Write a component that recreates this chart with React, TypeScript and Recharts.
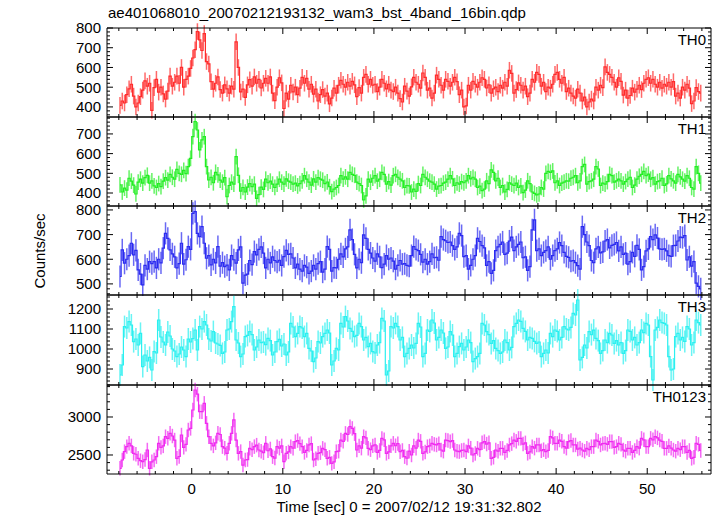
import React from "react";
import { ComposedChart, Line, ErrorBar, XAxis, YAxis } from "recharts";

// light curves, 0.25 s bins starting at t = -8 s
const T_START = -8;
const BIN = 0.25;

const th0 = [
  408, 430, 420, 462, 492, 515, 455, 400, 420, 452, 485, 532, 505, 520, 383, 498,
  540, 475, 500, 466, 440, 480, 556, 505, 525, 556, 520, 600, 500, 540, 556, 595,
  648, 690, 782, 740, 686, 772, 630, 618, 528, 490, 520, 552, 488, 470, 512, 492,
  470, 505, 490, 730, 600, 476, 490, 448, 512, 538, 505, 552, 520, 540, 496, 520,
  545, 520, 552, 470, 432, 500, 548, 522, 392, 470, 440, 510, 476, 500, 462, 495,
  550, 520, 545, 490, 515, 465, 490, 430, 462, 488, 455, 470, 416, 445, 495, 470,
  510, 535, 515, 500, 525, 505, 530, 512, 452, 498, 470, 550, 565, 515, 540, 510,
  515, 478, 500, 540, 520, 492, 515, 485, 478, 500, 470, 442, 425, 505, 480, 455,
  502, 550, 525, 515, 495, 572, 550, 485, 495, 445, 470, 561, 540, 510, 485, 540,
  530, 505, 525, 550, 528, 462, 485, 400, 405, 510, 485, 530, 515, 500, 525, 548,
  540, 496, 512, 470, 492, 500, 478, 510, 495, 525, 505, 586, 570, 470, 488, 522,
  510, 485, 505, 452, 470, 540, 525, 575, 565, 505, 525, 478, 500, 495, 515, 565,
  575, 540, 520, 550, 478, 495, 470, 455, 445, 490, 470, 430, 450, 400, 425, 440,
  430, 500, 485, 510, 498, 603, 575, 565, 550, 525, 500, 548, 530, 460, 485, 445,
  458, 495, 475, 490, 510, 488, 520, 540, 548, 520, 540, 515, 500, 525, 495, 515,
  505, 525, 500, 528, 455, 470, 445, 500, 485, 515, 495, 417, 430, 498, 478, 470,
];

const th1 = [
  441, 405, 425, 415, 475, 460, 440, 395, 455, 470, 450, 478, 490, 450, 462, 436,
  428, 448, 432, 460, 478, 465, 495, 480, 470, 520, 500, 495, 515, 498, 534, 576,
  686, 763, 720, 619, 670, 686, 534, 466, 480, 452, 505, 492, 465, 455, 478, 381,
  438, 455, 445, 585, 490, 410, 428, 405, 430, 448, 432, 445, 373, 392, 430, 418,
  470, 452, 460, 445, 428, 445, 470, 455, 445, 472, 460, 455, 445, 450, 436, 448,
  462, 488, 470, 455, 440, 472, 455, 478, 470, 465, 448, 456, 432, 407, 420, 428,
  438, 488, 470, 482, 470, 505, 495, 490, 455, 448, 438, 365, 385, 470, 455, 475,
  488, 460, 470, 505, 495, 445, 458, 440, 488, 495, 480, 470, 462, 428, 438, 436,
  405, 420, 408, 448, 438, 495, 480, 470, 460, 455, 445, 420, 435, 438, 450, 455,
  470, 488, 472, 438, 452, 445, 458, 452, 462, 488, 472, 480, 470, 428, 435, 412,
  420, 462, 448, 517, 505, 462, 475, 428, 438, 405, 418, 452, 445, 438, 450, 428,
  436, 402, 415, 462, 448, 405, 398, 390, 395, 428, 420, 500, 510, 505, 512, 452,
  462, 438, 450, 455, 462, 460, 475, 480, 488, 452, 462, 534, 545, 445, 458, 462,
  470, 534, 522, 438, 450, 445, 458, 495, 488, 455, 462, 470, 462, 445, 458, 470,
  480, 428, 440, 470, 485, 495, 510, 488, 496, 470, 478, 445, 458, 462, 475, 438,
  446, 488, 472, 462, 450, 495, 482, 470, 460, 488, 475, 428, 420, 534, 500, 450,
];

const th2 = [
  530, 638, 584, 600, 615, 665, 618, 636, 557, 540, 496, 575, 560, 590, 582, 590,
  565, 600, 585, 645, 705, 685, 638, 622, 610, 565, 582, 665, 580, 598, 651, 640,
  786, 793, 705, 692, 732, 665, 604, 615, 577, 600, 585, 651, 572, 586, 570, 576,
  557, 615, 598, 584, 638, 650, 503, 536, 540, 595, 578, 631, 618, 640, 650, 625,
  565, 600, 585, 610, 595, 588, 596, 575, 611, 636, 620, 622, 605, 565, 580, 560,
  552, 575, 568, 543, 552, 575, 560, 582, 590, 548, 560, 651, 640, 552, 566, 565,
  600, 622, 610, 642, 650, 719, 680, 620, 565, 600, 586, 699, 685, 640, 625, 605,
  592, 622, 610, 566, 580, 615, 600, 605, 592, 560, 575, 595, 580, 582, 575, 572,
  615, 651, 640, 635, 620, 588, 600, 580, 590, 622, 606, 608, 596, 692, 680, 675,
  668, 670, 655, 640, 650, 705, 696, 611, 615, 560, 575, 600, 615, 685, 672, 655,
  646, 575, 590, 543, 555, 635, 650, 660, 670, 620, 625, 674, 690, 635, 650, 660,
  670, 606, 610, 555, 570, 719, 760, 635, 642, 615, 628, 635, 650, 600, 615, 635,
  642, 668, 655, 628, 612, 608, 592, 595, 586, 574, 560, 732, 700, 670, 655, 595,
  586, 642, 650, 626, 630, 674, 680, 646, 656, 660, 668, 634, 650, 620, 625, 580,
  590, 628, 612, 656, 640, 557, 570, 634, 642, 692, 680, 699, 686, 642, 640, 642,
  634, 615, 612, 655, 656, 674, 690, 688, 696, 597, 610, 572, 590, 503, 490, 480,
];

const th3 = [
  870, 920, 1112, 1105, 1137, 1120, 1037, 1050, 1020, 1078, 912, 970, 940, 958, 895, 987,
  980, 1145, 1060, 1035, 1020, 1085, 1065, 1000, 990, 962, 975, 1010, 995, 962, 1050, 1035,
  1052, 1095, 995, 1112, 1100, 1137, 1120, 1050, 1040, 1087, 1030, 1025, 1018, 978, 985, 1095,
  1100, 1137, 1212, 1045, 1030, 962, 975, 1062, 1068, 1087, 1072, 995, 1010, 1045, 1032, 1035,
  1022, 1053, 1042, 970, 985, 1037, 1048, 1015, 1025, 970, 985, 1128, 1110, 1062, 1078, 1112,
  1105, 1062, 1078, 1003, 990, 937, 955, 1037, 1030, 1062, 1078, 1095, 1080, 920, 940, 1003,
  995, 1128, 1110, 1162, 1140, 1103, 1088, 1062, 1068, 1128, 1112, 1045, 1058, 1012, 1028, 987,
  980, 1020, 1032, 1153, 1140, 870, 890, 1112, 1105, 1128, 1112, 1045, 1058, 962, 978, 1003,
  1020, 1005, 1028, 1128, 1110, 962, 978, 1095, 1088, 1145, 1130, 1045, 1058, 1095, 1080, 1003,
  1010, 1087, 1070, 962, 978, 1012, 1028, 995, 1010, 1045, 1032, 937, 952, 962, 978, 1128,
  1120, 1087, 1072, 1028, 1042, 1003, 992, 978, 985, 1045, 1032, 995, 1008, 1112, 1128, 1145,
  1138, 1103, 1088, 1045, 1058, 1053, 1038, 1028, 1035, 962, 978, 995, 980, 1078, 1062, 1095,
  1088, 1045, 1058, 1112, 1100, 1095, 1108, 1178, 1170, 1245, 945, 958, 1020, 1005, 1087, 1072,
  1094, 1053, 1042, 978, 992, 1045, 1032, 1078, 1070, 1028, 1042, 1020, 1032, 978, 992, 1095,
  1088, 1045, 1058, 1020, 1032, 1095, 1082, 1128, 1120, 962, 845, 1095, 1108, 1145, 1132, 1128,
  1120, 962, 895, 900, 1062, 1078, 1045, 1058, 1038, 1112, 1100, 1020, 1032, 1145, 1132, 1120,
];

const th0123 = [
  2325, 2434, 2544, 2610, 2654, 2620, 2522, 2510, 2456, 2425, 2412, 2440, 2566, 2325, 2410, 2434,
  2478, 2654, 2600, 2620, 2741, 2720, 2785, 2750, 2697, 2456, 2480, 2763, 2600, 2640, 2829, 2850,
  3092, 3355, 3300, 3070, 3070, 3180, 2917, 2741, 2654, 2620, 2660, 2785, 2770, 2610, 2590, 2522,
  2654, 2785, 2961, 2697, 2522, 2545, 2368, 2434, 2440, 2588, 2570, 2610, 2630, 2566, 2550, 2530,
  2654, 2556, 2580, 2478, 2460, 2610, 2590, 2620, 2412, 2522, 2540, 2610, 2590, 2676, 2690, 2650,
  2610, 2534, 2560, 2632, 2650, 2434, 2450, 2522, 2530, 2588, 2570, 2456, 2470, 2390, 2410, 2544,
  2550, 2697, 2680, 2785, 2770, 2873, 2850, 2780, 2566, 2620, 2590, 2741, 2725, 2588, 2570, 2620,
  2632, 2534, 2560, 2719, 2700, 2522, 2540, 2620, 2654, 2622, 2650, 2544, 2560, 2478, 2460, 2550,
  2500, 2620, 2590, 2697, 2680, 2522, 2540, 2610, 2620, 2654, 2640, 2632, 2650, 2566, 2550, 2697,
  2690, 2676, 2690, 2566, 2550, 2544, 2560, 2566, 2544, 2620, 2590, 2500, 2520, 2588, 2570, 2660,
  2676, 2644, 2660, 2456, 2470, 2566, 2550, 2588, 2588, 2534, 2560, 2632, 2650, 2697, 2680, 2719,
  2719, 2644, 2660, 2522, 2540, 2610, 2590, 2632, 2632, 2556, 2570, 2544, 2560, 2741, 2725, 2654,
  2654, 2697, 2680, 2610, 2590, 2676, 2690, 2632, 2632, 2578, 2590, 2566, 2550, 2588, 2570, 2610,
  2610, 2697, 2680, 2632, 2650, 2654, 2640, 2676, 2676, 2600, 2610, 2654, 2640, 2566, 2550, 2588,
  2588, 2534, 2560, 2610, 2590, 2719, 2700, 2610, 2610, 2719, 2700, 2741, 2725, 2697, 2680, 2588,
  2588, 2620, 2590, 2566, 2550, 2588, 2570, 2610, 2610, 2534, 2560, 2456, 2470, 2654, 2640, 2560,
];

// typical 1-sigma error per band (counts/sec)
const errors = [42, 40, 45, 55, 95];
const names = ["TH0", "TH1", "TH2", "TH3", "TH0123"];
const colors = ["#ff2a2a", "#22ee22", "#2a2af0", "#2af0f0", "#f02af0"];
const yDomains = [[349, 800], [334, 786], [455, 816], [820, 1270], [2250, 3421]];
const yMajor = [
  [400, 500, 600, 700, 800],
  [400, 500, 600, 700],
  [500, 600, 700, 800],
  [900, 1000, 1100, 1200],
  [2500, 3000],
];
const yMinorStep = [20, 20, 20, 20, 100];
const xMajor = [0, 10, 20, 30, 40, 50];
const X_DOMAIN = [-9.3, 57];

const W = 717;
const PLOT_LEFT = 107;
const PLOT_RIGHT = 711;
const PAD_TOP = 10;
const PAD_BOTTOM = 30;
const panelTops = [28, 117, 206, 295, 385];
const panelHeights = [89, 89, 89, 90, 89];
const FONT = "'Liberation Sans', Arial, Helvetica, sans-serif";

const xTicks: number[] = [];
for (let v = -8; v <= 56; v += 2) xTicks.push(v);

function minorTicks(domain: number[], step: number) {
  const out: number[] = [];
  for (let v = Math.ceil(domain[0] / step) * step; v <= domain[1]; v += step) out.push(v);
  return out;
}

function XTick(props: any) {
  const { x, y, payload, side, label } = props;
  const major = xMajor.includes(payload.value);
  const len = major ? 6 : 3;
  const dir = side === "top" ? 1 : -1;
  return (
    <g>
      <line x1={x} x2={x} y1={y} y2={y + dir * len} stroke="#000" strokeWidth={1} />
      {label && major && (
        <text x={x} y={y + 20} textAnchor="middle" fontSize={15} fontFamily={FONT} fill="#000">
          {payload.value}
        </text>
      )}
    </g>
  );
}

function YTick(props: any) {
  const { x, y, payload, side, majors } = props;
  const major = majors.includes(payload.value);
  const len = major ? 6 : 3;
  const dir = side === "left" ? 1 : -1;
  return (
    <g>
      <line x1={x} x2={x + dir * len} y1={y} y2={y} stroke="#000" strokeWidth={1} />
      {side === "left" && major && (
        <text x={x - 6} y={y} dy="0.36em" textAnchor="end" fontSize={15} fontFamily={FONT} fill="#000">
          {payload.value}
        </text>
      )}
    </g>
  );
}

function Panel({ idx }: { idx: number }) {
  const values = [th0, th1, th2, th3, th0123][idx];
  const data = values.map((v, i) => ({ t: T_START + BIN * (i + 0.5), v, e: errors[idx] }));
  const h = panelHeights[idx];
  const last = idx === 4;
  const yTicks = minorTicks(yDomains[idx], yMinorStep[idx]);
  // axes are 1px thick (recharts skips 0-size axes), so margins leave room for them
  return (
    <div style={{ position: "absolute", left: 0, top: panelTops[idx] - PAD_TOP }}>
      <ComposedChart
        width={W}
        height={h + PAD_TOP + PAD_BOTTOM}
        data={data}
        margin={{ top: PAD_TOP - 1, bottom: PAD_BOTTOM - 1, left: PLOT_LEFT - 1, right: W - PLOT_RIGHT - 1 }}
      >
        <XAxis
          xAxisId="b"
          dataKey="t"
          type="number"
          domain={X_DOMAIN}
          allowDataOverflow
          ticks={xTicks}
          interval={0}
          height={1}
          tickSize={0}
          tickMargin={0}
          tickLine={false}
          axisLine={{ stroke: "#000" }}
          tick={(p: any) => <XTick {...p} side="bottom" label={last} />}
        />
        <XAxis
          xAxisId="t"
          orientation="top"
          dataKey="t"
          type="number"
          domain={X_DOMAIN}
          allowDataOverflow
          ticks={xTicks}
          interval={0}
          height={1}
          tickSize={0}
          tickMargin={0}
          tickLine={false}
          axisLine={{ stroke: "#000" }}
          tick={(p: any) => <XTick {...p} side="top" label={false} />}
        />
        <YAxis
          yAxisId="l"
          type="number"
          domain={yDomains[idx]}
          allowDataOverflow
          ticks={yTicks}
          interval={0}
          width={1}
          tickSize={0}
          tickMargin={0}
          tickLine={false}
          axisLine={{ stroke: "#000" }}
          tick={(p: any) => <YTick {...p} side="left" majors={yMajor[idx]} />}
        />
        <YAxis
          yAxisId="r"
          orientation="right"
          type="number"
          domain={yDomains[idx]}
          allowDataOverflow
          ticks={yTicks}
          interval={0}
          width={1}
          tickSize={0}
          tickMargin={0}
          tickLine={false}
          axisLine={{ stroke: "#000" }}
          tick={(p: any) => <YTick {...p} side="right" majors={yMajor[idx]} />}
        />
        <Line
          xAxisId="b"
          yAxisId="l"
          type="step"
          dataKey="v"
          stroke={colors[idx]}
          strokeWidth={1.2}
          dot={false}
          isAnimationActive={false}
        >
          <ErrorBar dataKey="e" width={0} stroke={colors[idx]} strokeOpacity={0.7} strokeWidth={1.5} direction="y" />
        </Line>
      </ComposedChart>
      <div
        style={{
          position: "absolute",
          right: W - PLOT_RIGHT + 5,
          top: PAD_TOP + 3,
          fontFamily: FONT,
          fontSize: 15,
          lineHeight: "17px",
          color: "#000",
        }}
      >
        {names[idx]}
      </div>
    </div>
  );
}

export default function App() {
  return (
    <div style={{ position: "absolute", left: 0, top: 0, width: W, height: 516, background: "#fff" }}>
      {[0, 1, 2, 3, 4].map((i) => (
        <Panel key={i} idx={i} />
      ))}
      <svg width={W} height={516} style={{ position: "absolute", left: 0, top: 0, pointerEvents: "none" }}>
        <text x={108} y={18} fontSize={15} fontFamily={FONT} fill="#000">
          ae401068010_20070212193132_wam3_bst_4band_16bin.qdp
        </text>
        <text
          x={0}
          y={0}
          transform="translate(45 251) rotate(-90)"
          textAnchor="middle"
          fontSize={15}
          fontFamily={FONT}
          fill="#000"
        >
          Counts/sec
        </text>
        <text x={409} y={512} textAnchor="middle" fontSize={15} fontFamily={FONT} fill="#000">
          Time [sec] 0 = 2007/02/12 19:31:32.802
        </text>
      </svg>
    </div>
  );
}
